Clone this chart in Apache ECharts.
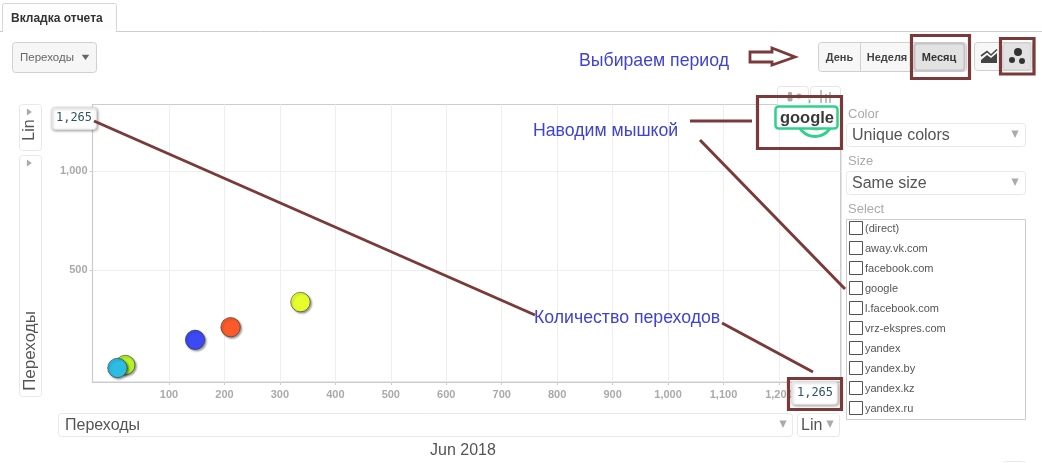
<!DOCTYPE html>
<html><head><meta charset="utf-8">
<style>html,body{margin:0;padding:0;background:#fff}#c{width:1042px;height:463px}</style>
<script src="https://cdn.jsdelivr.net/npm/echarts@6/dist/echarts.min.js"></script>
</head><body><div id="c"></div>
<script>
const sources = ['lime','yellow','orange','blue','cyan','google'];
const xValues = [21,337,211,147,7,1265];
const yValues = [20,338,211,147,5,1265];
const colors = ['#b6f224','#e6ff2b','#fc5a2a','#3c49f5','#2dbde3','#2fd18c'];
const xTicks = [100,200,300,400,500,600,700,800,900,1000,1100,1200];
const yTicks = [500,1000];
const listItems = ['(direct)','away.vk.com','facebook.com','google','l.facebook.com','vrz-ekspres.com','yandex','yandex.by','yandex.kz','yandex.ru'];

const FONT='"Liberation Sans",Arial,sans-serif';
const MARK='#7b3a3a', BLUE='#3f43cf';
const g=[];
function box(x,y,w,h,o={}){g.push({type:'rect',z:o.z||5,shape:{x,y,width:w,height:h,r:o.r===undefined?3:o.r},
  style:{fill:o.fill||'#fff',stroke:o.stroke||'#e8e8e8',lineWidth:o.lw||1,shadowBlur:o.sb||0,shadowColor:o.sc||'rgba(0,0,0,.35)',shadowOffsetX:o.so||0,shadowOffsetY:o.so||0}});}
function txt(x,y,t,o={}){g.push({type:'text',z:o.z||6,x,y:y+0.8,rotation:o.rot||0,
  style:{text:t,fill:o.c||'#444',font:(o.w||'normal')+' '+(o.s||12)+'px '+(o.f||FONT),textAlign:o.a||'left',textVerticalAlign:'middle'}});}
function line(x1,y1,x2,y2,o={}){g.push({type:'line',z:o.z||20,shape:{x1,y1,x2,y2},style:{stroke:o.c||MARK,lineWidth:o.lw||3}});}
function frame(x,y,w,h){g.push({type:'rect',z:21,shape:{x,y,width:w,height:h},style:{fill:'none',stroke:MARK,lineWidth:3.2}});}
function tri(cx,cy,s,dir,c){const p=dir==='r'?[[cx-s*.6,cy-s],[cx-s*.6,cy+s],[cx+s*.8,cy]]:dir==='D'?[[cx-s,cy-s],[cx+s,cy-s],[cx,cy+s*1.1]]:[[cx-s,cy-s*.6],[cx+s,cy-s*.6],[cx,cy+s*.8]];
  g.push({type:'polygon',z:7,shape:{points:p},style:{fill:c||'#999'}});}
function dot(cx,cy,r,c,z){g.push({type:'circle',z:z||7,shape:{cx,cy,r},style:{fill:c}});}

// tab strip
line(0,31.5,1042,31.5,{c:'#ccc',lw:1,z:1});
box(2.5,3.5,114,28,{r:2,stroke:'#d5d5d5',fill:'#fdfdfd'});
line(3,31.5,116,31.5,{c:'#fff',lw:1,z:6});
txt(11,18,'Вкладка отчета',{w:'bold',s:12,c:'#333'});

// metric dropdown
box(12.5,42.5,84,30,{fill:'#f6f6f6',stroke:'#d0d0d0'});
txt(20,57,'Переходы',{s:11.5,c:'#666'});
tri(85.5,57,3.8,'d','#666');

// period buttons
box(818.5,42.5,148,29,{fill:'#f7f7f7',stroke:'#d0d0d0'});
line(860.5,43,860.5,71,{c:'#d0d0d0',lw:1,z:6});
txt(839.5,57,'День',{w:'bold',s:11,a:'center',c:'#444'});
txt(887,57,'Неделя',{w:'bold',s:11,a:'center',c:'#444'});
box(914.5,43.5,50,27,{fill:'#e2e2e2',stroke:'#c4c4c4',lw:2,z:6});
txt(939,57,'Месяц',{w:'bold',s:11,a:'center',c:'#333',z:7});
// chart type buttons
box(974.5,42.5,58,28,{fill:'#f7f7f7',stroke:'#d0d0d0'});
box(1003,43,28,27,{fill:'#e2e2e2',stroke:'#cfcfcf',z:6});
g.push({type:'polygon',z:7,shape:{points:[[981,63],[981,60],[987,55],[991,58],[997,53],[997,63]]},style:{fill:'#444'}});
g.push({type:'polyline',z:8,shape:{points:[[981,56],[987,51.5],[991,55],[997,49.5]]},style:{stroke:'#444',lineWidth:1.6,fill:'none'}});
dot(1018,52,4,'#333');dot(1012,60,3,'#333');dot(1022,61,3,'#333');

// annotations
txt(579,60.5,'Выбираем период',{s:17.7,c:BLUE,z:22});
txt(533,130.5,'Наводим мышкой',{s:17.7,c:BLUE,z:22});
txt(534,317.5,'Количество переходов',{s:17.7,c:BLUE,z:22});
g.push({type:'polygon',z:20,shape:{points:[[750,52],[772,52],[772,48],[795,57],[772,65],[772,62],[750,62]]},style:{fill:'#fff',stroke:MARK,lineWidth:2.8}});

// small tabs over plot
box(777.5,86.5,31,20,{z:10,stroke:'#e4e4e4'});
box(810.5,86.5,30,20,{z:10,stroke:'#e4e4e4'});
dot(790,99,2.6,'#aaa',11);dot(799,96,2.6,'#aaa',11);dot(790,94,2.2,'#aaa',11);
line(821,90,821,103,{c:'#aaa',lw:1.5,z:11});line(826,94,826,103,{c:'#aaa',lw:1.5,z:11});line(830,92,830,103,{c:'#aaa',lw:1.5,z:11});

// tooltips
box(51.5,107.5,45,22,{sb:3,so:1,z:15,stroke:'#ddd'});
txt(74,117.5,'1,265',{f:'"DejaVu Sans Mono",monospace',s:12,c:'#2b5563',a:'center',z:16});
box(791.5,381.5,46,23,{sb:3,so:1,z:15,stroke:'#ddd'});
txt(815,392,'1,265',{f:'"DejaVu Sans Mono",monospace',s:12,c:'#2b5563',a:'center',z:16});
// hover label
box(775.5,106.5,62,22,{stroke:'#2fd18c',lw:2.5,r:3,z:15,fill:'#fff'});
txt(807,117.5,'google',{w:'bold',s:16.5,c:'#3a3a3a',a:'center',z:16});

// annotation lines and frames
line(94,121,535,315);
line(722,323,813,372);
line(690,121,752,121);
line(700,140,845,289);
frame(911.5,35.5,58,43);
frame(1000.5,38.5,33.5,35.5);
frame(757.5,96.5,84,52);
frame(788.5,378.5,53,31);

// axis side controls
box(19.5,104.5,22,46,{});
g.push({type:'text',z:6,x:30,y:130,rotation:Math.PI/2,style:{text:'Lin',fill:'#555',font:'16px '+FONT,textAlign:'center',textVerticalAlign:'middle'}});
tri(29,112,3.5,'r','#aaa');
box(19.5,155.5,22,241,{});
tri(29,163,3.5,'r','#aaa');
g.push({type:'text',z:6,x:30,y:351,rotation:Math.PI/2,style:{text:'Переходы',fill:'#555',font:'17px '+FONT,textAlign:'center',textVerticalAlign:'middle'}});

box(58.5,413.5,734,23,{});
txt(65,424.5,'Переходы',{s:16,c:'#555'});
tri(783,424,3.6,'D','#aaa');
box(797.5,413.5,42,23,{});
txt(801,424.5,'Lin',{s:16,c:'#555'});
tri(830,424,3.6,'D','#aaa');
txt(463,450,'Jun 2018',{s:16,c:'#555',a:'center'});
box(1002.5,461.5,23,10,{});

// right panel
line(841.5,104,841.5,412,{c:'#e4e4e4',lw:1,z:1});
txt(848,113.5,'Color',{s:13,c:'#aaa'});
box(846.5,123.5,179,23,{});
txt(852,134.5,'Unique colors',{s:16,c:'#555'});
tri(1015,134,3.6,'D','#aaa');
txt(848,160.5,'Size',{s:13,c:'#aaa'});
box(846.5,171.5,179,23,{});
txt(852,182.5,'Same size',{s:16,c:'#555'});
tri(1015,182,3.6,'D','#aaa');
txt(848,208.5,'Select',{s:13,c:'#aaa'});
box(846.5,219.5,179,200,{r:0,stroke:'#ccc'});
listItems.forEach((t,i)=>{
  const y=228+i*20;
  box(849.5,y-6.5,13,13,{r:0,stroke:'#555',z:6});
  txt(865,y,t,{s:11,c:'#555'});
});

const pointData = sources.map((n,i)=>({name:n,value:[xValues[i],yValues[i]],itemStyle:{color:colors[i]}}));
const highlighted = sources.map((n,i)=>({name:n,value:[xValues[i],yValues[i]]})).filter(d=>d.name==='google');
const option={
  animation:false,
  textStyle:{fontFamily:FONT},
  grid:{left:92.5,top:104.5,width:748,height:277.5,show:true,borderColor:'#ccc',borderWidth:1,backgroundColor:'#fff'},
  xAxis:{type:'value',min:-38,max:1311,
    axisLine:{show:true,onZero:false,lineStyle:{color:'#ccc',width:1.2}},
    axisTick:{show:true,length:3,lineStyle:{color:'#ccc'},customValues:xTicks},
    axisLabel:{color:'#aaa',fontWeight:'bold',fontSize:11,margin:7,customValues:xTicks,formatter:v=>v.toLocaleString('en-US')},
    splitLine:{show:true,lineStyle:{color:'#eee',width:1}}},
  yAxis:{type:'value',min:-66,max:1336,
    axisLine:{show:true,onZero:false,lineStyle:{color:'#ccc',width:1.2}},
    axisTick:{show:true,length:3,lineStyle:{color:'#ccc'},customValues:yTicks},
    axisLabel:{color:'#aaa',fontWeight:'bold',fontSize:11,margin:5,customValues:yTicks,formatter:v=>v.toLocaleString('en-US')},
    splitLine:{show:true,lineStyle:{color:'#eee',width:1}}},
  series:[
    {type:'scatter',name:'highlight',z:3,symbolSize:36,silent:true,data:highlighted,
      itemStyle:{color:'#fff',borderColor:'#2fd18c',borderWidth:3,opacity:1}},
    {type:'scatter',name:'sources',z:4,symbolSize:19.5,data:pointData,
      itemStyle:{opacity:1,borderColor:'rgba(40,40,40,.55)',borderWidth:1,shadowBlur:2,shadowOffsetX:1.5,shadowOffsetY:1.5,shadowColor:'rgba(0,0,0,.4)'}}
  ],
  graphic:{elements:g}
};
echarts.init(document.getElementById('c')).setOption(option);
</script></body></html>
